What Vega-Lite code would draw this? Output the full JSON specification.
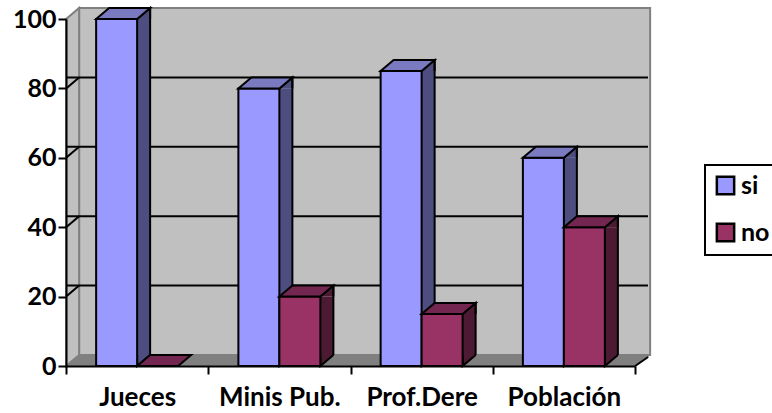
{
  "$schema": "https://vega.github.io/schema/vega-lite/v6.json",
  "width": 569,
  "height": 347,
  "autosize": "none",
  "padding": {"left": 66, "top": 19, "right": 137, "bottom": 47},
  "background": "white",
  "config": {"view": {"stroke": null}, "font": "Lato"},
  "datasets": {
    "bars": [
      {"grupo": "Jueces", "serie": "si", "valor": 100, "base": 0},
      {"grupo": "Jueces", "serie": "no", "valor": 0, "base": 0},
      {"grupo": "Minis Pub.", "serie": "si", "valor": 80, "base": 0},
      {"grupo": "Minis Pub.", "serie": "no", "valor": 20, "base": 0},
      {"grupo": "Prof.Dere", "serie": "si", "valor": 85, "base": 0},
      {"grupo": "Prof.Dere", "serie": "no", "valor": 15, "base": 0},
      {"grupo": "Población", "serie": "si", "valor": 60, "base": 0},
      {"grupo": "Población", "serie": "no", "valor": 40, "base": 0}
    ],
    "niveles": [
      {"grupo": "Jueces", "nivel": 20},
      {"grupo": "Jueces", "nivel": 40},
      {"grupo": "Jueces", "nivel": 60},
      {"grupo": "Jueces", "nivel": 80}
    ],
    "origen": [{"grupo": "Jueces", "nivel": 0}]
  },
  "encoding": {
    "x": {
      "field": "grupo",
      "type": "nominal",
      "sort": ["Jueces", "Minis Pub.", "Prof.Dere", "Población"],
      "title": null,
      "scale": {"paddingInner": 0, "paddingOuter": 0},
      "axis": {
        "domainColor": "#000",
        "domainWidth": 2,
        "tickColor": "#000",
        "tickWidth": 2,
        "tickSize": 8,
        "tickBand": "extent",
        "labelAngle": 0,
        "labelFont": "Lato",
        "labelFontWeight": "bold",
        "labelFontSize": 26,
        "labelColor": "#000",
        "labelPadding": 10,
        "zindex": 2
      }
    }
  },
  "layer": [
    {
      "description": "back wall of the 3D box",
      "data": {"name": "origen"},
      "mark": {"type": "point", "filled": true, "size": 4, "fill": "#c0c0c0", "stroke": "#808080", "strokeWidth": 2, "opacity": 1,
        "shape": "M-58,-11 L513,-11 L513,-358 L-58,-358 Z"},
      "encoding": {
        "y": {"field": "nivel", "type": "quantitative", "title": null}
      }
    },
    {
      "description": "left wall",
      "data": {"name": "origen"},
      "mark": {"type": "point", "filled": true, "size": 4, "fill": "#c0c0c0", "stroke": "#808080", "strokeWidth": 2, "opacity": 1,
        "shape": "M-71,0 L-58,-11 L-58,-358 L-71,-347 Z"},
      "encoding": {
        "y": {"field": "nivel", "type": "quantitative"}
      }
    },
    {
      "description": "floor",
      "data": {"name": "origen"},
      "mark": {"type": "point", "filled": true, "size": 4, "fill": "#808080", "stroke": "#808080", "strokeWidth": 1, "opacity": 1,
        "shape": "M-71,0 L-58,-11 L513,-11 L498,0 Z"},
      "encoding": {
        "y": {"field": "nivel", "type": "quantitative"}
      }
    },
    {
      "description": "corner edge where the floor ends on the right",
      "data": {"name": "origen"},
      "mark": {"type": "point", "filled": false, "size": 4, "stroke": "#000", "strokeWidth": 2, "opacity": 1,
        "shape": "M498,0 L511,-9"},
      "encoding": {
        "y": {"field": "nivel", "type": "quantitative"}
      }
    },
    {
      "description": "horizontal grid on the back wall",
      "data": {"name": "niveles"},
      "mark": {"type": "rule", "stroke": "#000", "strokeWidth": 2, "xOffset": 13, "x2Offset": 12, "yOffset": -11},
      "encoding": {
        "x": null,
        "y": {"field": "nivel", "type": "quantitative"}
      }
    },
    {
      "description": "grid continued across the left wall",
      "data": {"name": "niveles"},
      "mark": {"type": "point", "filled": false, "size": 4, "stroke": "#000", "strokeWidth": 2, "opacity": 1,
        "shape": "M-71,0 L-58,-11"},
      "encoding": {
        "y": {"field": "nivel", "type": "quantitative"}
      }
    },
    {
      "description": "side face of the si bars, straight part",
      "data": {"name": "bars"},
      "transform": [{"filter": "datum.serie === 'si' && datum.valor > 0"}],
      "mark": {"type": "rule", "strokeWidth": 13, "stroke": "#4d4d80", "xOffset": 6.5, "y2Offset": -11},
      "encoding": {
        "y": {"field": "valor", "type": "quantitative", "scale": {"domain": [0, 100]}},
        "y2": {"field": "base"}
      }
    },
    {
      "description": "side face of the no bars, straight part",
      "data": {"name": "bars"},
      "transform": [{"filter": "datum.serie === 'no' && datum.valor > 0"}],
      "mark": {"type": "rule", "strokeWidth": 13, "stroke": "#4d1a33", "xOffset": 47.5, "y2Offset": -11},
      "encoding": {
        "y": {"field": "valor", "type": "quantitative"},
        "y2": {"field": "base"}
      }
    },
    {
      "description": "side faces, upper wedge",
      "data": {"name": "bars"},
      "transform": [{"filter": "datum.valor > 0"}],
      "mark": {"type": "point", "filled": true, "size": 4, "stroke": "#000", "strokeWidth": 2, "opacity": 1, "shape": "M20.5,0 L33.5,-11 L33.5,0"},
      "encoding": {
        "xOffset": {"field": "serie", "type": "nominal", "sort": ["si", "no"], "scale": {"paddingInner": 0, "paddingOuter": 0.735}},
        "y": {"field": "valor", "type": "quantitative"},
        "fill": {"condition": {"test": "datum.serie === 'si'", "value": "#4d4d80"}, "value": "#4d1a33"}
      }
    },
    {
      "description": "side faces, lower wedge",
      "data": {"name": "bars"},
      "transform": [{"filter": "datum.valor > 0"}],
      "mark": {"type": "point", "filled": true, "size": 4, "stroke": "#000", "strokeWidth": 2, "opacity": 1, "shape": "M33.5,-11 L20.5,0 L20.5,-11"},
      "encoding": {
        "xOffset": {"field": "serie", "type": "nominal", "sort": ["si", "no"]},
        "y": {"field": "base", "type": "quantitative"},
        "fill": {"condition": {"test": "datum.serie === 'si'", "value": "#4d4d80"}, "value": "#4d1a33"}
      }
    },
    {
      "description": "back vertical edge of the si side faces",
      "data": {"name": "bars"},
      "transform": [{"filter": "datum.serie === 'si' && datum.valor > 0"}],
      "mark": {"type": "rule", "stroke": "#000", "strokeWidth": 2, "xOffset": 13, "yOffset": -11, "y2Offset": -11},
      "encoding": {
        "y": {"field": "valor", "type": "quantitative"},
        "y2": {"field": "base"}
      }
    },
    {
      "description": "back vertical edge of the no side faces",
      "data": {"name": "bars"},
      "transform": [{"filter": "datum.serie === 'no' && datum.valor > 0"}],
      "mark": {"type": "rule", "stroke": "#000", "strokeWidth": 2, "xOffset": 54, "yOffset": -11, "y2Offset": -11},
      "encoding": {
        "y": {"field": "valor", "type": "quantitative"},
        "y2": {"field": "base"}
      }
    },
    {
      "description": "front faces, carrying the legend",
      "data": {"name": "bars"},
      "mark": {"type": "bar", "stroke": "#000", "strokeWidth": 2},
      "encoding": {
        "xOffset": {"field": "serie", "type": "nominal", "sort": ["si", "no"]},
        "y": {"field": "valor", "type": "quantitative", "stack": null},
        "fill": {
          "field": "serie",
          "type": "nominal",
          "scale": {"domain": ["si", "no"], "range": ["#9999ff", "#993366"]},
          "legend": {
            "title": null,
            "orient": "none",
            "legendX": 639,
            "legendY": 146,
            "padding": 8,
            "symbolType": "square",
            "symbolSize": 300,
            "symbolStrokeColor": "#000",
            "symbolStrokeWidth": 2.5,
            "labelFont": "Lato",
            "labelFontWeight": "bold",
            "labelFontSize": 25,
            "labelColor": "#000",
            "labelOffset": 3,
            "rowPadding": 18,
            "strokeColor": "#000",
            "encode": {"legend": {"update": {"strokeWidth": {"value": 2}}}}
          }
        }
      }
    },
    {
      "description": "top faces",
      "data": {"name": "bars"},
      "mark": {"type": "point", "filled": true, "size": 4, "stroke": "#000", "strokeWidth": 2, "opacity": 1, "shape": "M-20.5,0 L-7.5,-11 L33.5,-11 L20.5,0 Z"},
      "encoding": {
        "xOffset": {"field": "serie", "type": "nominal", "sort": ["si", "no"]},
        "y": {"field": "valor", "type": "quantitative"},
        "fill": {"condition": {"test": "datum.serie === 'si'", "value": "#7a7ac0"}, "value": "#732650"}
      }
    },
    {
      "description": "front y axis, drawn last",
      "data": {"name": "bars"},
      "mark": {"type": "bar", "opacity": 0},
      "encoding": {
        "y": {
          "field": "valor",
          "type": "quantitative",
          "stack": null,
          "title": null,
          "axis": {
            "values": [0, 20, 40, 60, 80, 100],
            "grid": false,
            "domainColor": "#000",
            "domainWidth": 2,
            "tickColor": "#000",
            "tickWidth": 2,
            "tickSize": 8,
            "labelFont": "Lato",
            "labelFontWeight": "bold",
            "labelFontSize": 25,
            "labelColor": "#000",
            "labelPadding": 2,
            "zindex": 2
          }
        }
      }
    }
  ]
}
